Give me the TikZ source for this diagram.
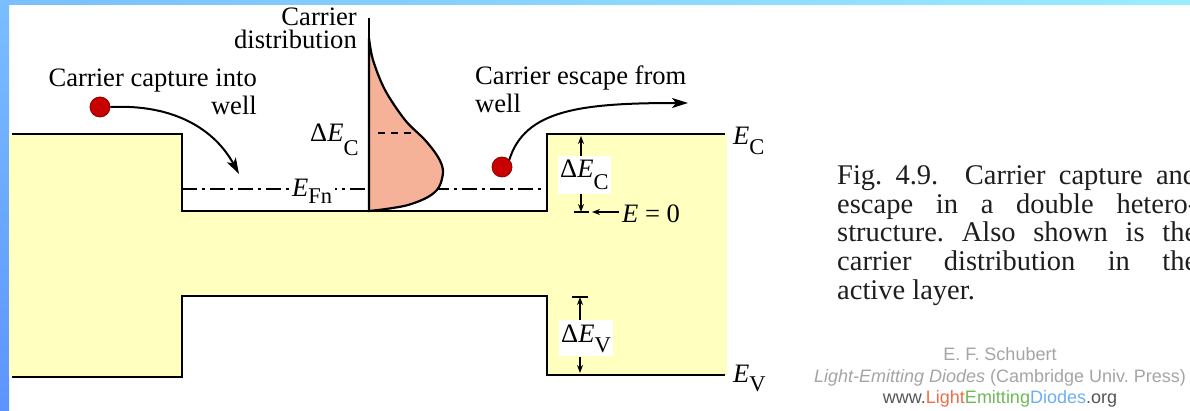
\documentclass[tikz,border=0pt]{standalone}
\usepackage{fontspec}
\setmainfont{Liberation Serif}
\newfontfamily\credfont{Liberation Sans}
\usetikzlibrary{arrows.meta}
\definecolor{bandfill}{RGB}{255,255,192}
\definecolor{distfill}{RGB}{246,178,152}
\definecolor{dotred}{RGB}{200,0,0}
\definecolor{stripA}{RGB}{122,190,255}
\definecolor{stripB}{RGB}{152,238,255}
\definecolor{stripC}{RGB}{92,148,255}
\definecolor{credgray}{RGB}{165,165,165}
\definecolor{creddark}{RGB}{85,85,85}
\definecolor{credorange}{RGB}{240,110,70}
\definecolor{credgreen}{RGB}{110,185,90}
\definecolor{credblue}{RGB}{110,175,235}
\definecolor{captext}{RGB}{30,30,30}
\newcommand\lowsub[2][10pt]{\raisebox{-#1}{\fontsize{22.5}{22.5}\selectfont #2}}
\frenchspacing
\begin{document}
\begin{tikzpicture}[x=1pt,y=-1pt,
  lbl/.style={inner sep=0pt, font=\fontsize{26.6}{28}\selectfont},
  capt/.style={inner sep=0pt, anchor=base west, text=captext, font=\fontsize{28.5}{28}\selectfont},
  cred/.style={inner sep=0pt, anchor=base, font=\credfont\fontsize{18}{20}\selectfont},
  band/.style={line width=2.6pt, line join=miter},
  fermi/.style={line width=2pt, dash pattern=on 15pt off 5pt on 3pt off 5pt},
  carrow/.style={line width=2pt, -{Stealth[length=16pt, width=10pt, inset=4pt]}},
  dimarr/.style={line width=1.6pt, -{Stealth[length=8pt, width=6pt]}},
  dot/.style={circle, fill=dotred, draw=dotred!70!black, line width=0.8pt, minimum size=20pt, inner sep=0pt}]
\useasboundingbox (0,0) rectangle (1190,411);
\fill[white] (0,0) rectangle (1190,411);
\shade[left color=stripA, right color=stripB] (0,0) rectangle (1190,4.5);
\shade[top color=stripA, bottom color=stripC] (0,0) rectangle (9,411);

% band gap fill
\fill[bandfill] (9,134) -- (182,134) -- (182,211) -- (547,211) -- (547,134) -- (727,134)
  -- (727,375) -- (547,375) -- (547,296) -- (182,296) -- (182,377) -- (9,377) -- cycle;
% band edges
\draw[band] (12,134) -| (182,211) -| (547,134) -- (725,134);
\draw[band] (12,377) -| (182,296) -| (547,375) -- (725,375);

% Fermi level
\draw[fermi] (182,189) -- (547,189);
\node[lbl, fill=white, inner xsep=3pt, anchor=base west] (efn) at (289,197) {\textit{E}\lowsub[7pt]{Fn}};

% carrier distribution
\draw[line width=2.2pt, fill=distfill] plot[smooth, tension=0.55] coordinates {(369,38) (373,60) (385,90) (405,120) (425,140) (438,157) (443,171) (439,187) (428,197) (408,205) (386,209) (369,211)} -- cycle;
\draw[line width=2.6pt] (369,18) -- (369,212);
\draw[line width=2pt, dash pattern=on 7pt off 6pt] (378,133) -- (414,133);
\node[lbl, anchor=base west] (decl) at (310,142) {Δ\textit{E}\lowsub[14pt]{C}};
\node[lbl, anchor=base east] (cd1) at (357,26) {Carrier};
\node[lbl, anchor=base east] (cd2) at (357,49) {distribution};

% capture
\node[dot] (ldot) at (100,107) {};
\coordinate (capend) at (239,174);
\draw[carrow] (ldot.east) .. controls (175,104) and (215,130) .. (capend);
\node[lbl, anchor=base east] (cap1) at (257,87) {Carrier capture into};
\node[lbl, anchor=base east] (cap2) at (257,115) {well};

% escape
\node[dot] (rdot) at (502,167) {};
\coordinate (escend) at (688,103);
\draw[carrow] (rdot.north east) .. controls (525,110) and (580,103) .. (escend);
\node[lbl, anchor=base west] (esc1) at (475,85) {Carrier escape from};
\node[lbl, anchor=base west] (esc2) at (475,113) {well};

% Delta E_C on right
\node[lbl, fill=white, inner xsep=2pt, inner ysep=4pt, anchor=base west] (decr) at (558,178) {Δ\textit{E}\lowsub[12pt]{C}};
\coordinate (ectopR) at (581,136);
\coordinate (ezero) at (581,212);
\draw[dimarr] (decr.north -| ectopR) -- (ectopR);
\draw[dimarr] (decr.south -| ezero) -- (ezero);
\draw[line width=1.6pt] ([xshift=-7.5pt]ezero) -- ([xshift=7.5pt]ezero);
\node[lbl, anchor=base west] (ez) at (622,223) {\textit{E} = 0};
\draw[dimarr] ([xshift=-3pt]ez.west |- ezero) -- ([xshift=11pt]ezero);

% Delta E_V
\node[lbl, fill=white, inner xsep=2pt, inner ysep=4pt, anchor=base west] (dev) at (559,342) {Δ\textit{E}\lowsub[10pt]{V}};
\coordinate (evtop) at (580,297);
\coordinate (evbot) at (580,373);
\draw[line width=1.6pt] ([xshift=-8pt]evtop) -- ([xshift=8pt]evtop);
\draw[dimarr] (dev.north -| evtop) -- (evtop);
\draw[dimarr] (dev.south -| evbot) -- (evbot);

% band labels
\node[lbl, anchor=base west] (ecl) at (733,145) {\textit{E}\lowsub[10pt]{C}};
\node[lbl, anchor=base west] (evl) at (733,382) {\textit{E}\lowsub[9pt]{V}};

% caption
\node[capt] (fa) at (837,185) {\makebox[360pt][s]{Fig. 4.9.\ \ Carrier capture and}};
\node[capt] (fb) at (837,213.5) {\makebox[360pt][s]{escape in a double hetero-}};
\node[capt] (fc) at (837,242) {\makebox[360pt][s]{structure. Also shown is the}};
\node[capt] (fd) at (837,270.5) {\makebox[360pt][s]{carrier distribution in the}};
\node[capt] (fe) at (837,299) {active layer.};

% credits
\node[cred, text=credgray] (cr1) at (1000,360) {E. F. Schubert};
\node[cred, text=credgray] (cr2) at (1000,382) {\textit{Light-Emitting Diodes} (Cambridge Univ. Press)};
\node[cred, text=creddark] (cr3) at (1000,403) {www.\textcolor{credorange}{Light}\textcolor{credgreen}{Emitting}\textcolor{credblue}{Diodes}.org};
\end{tikzpicture}
\end{document}
